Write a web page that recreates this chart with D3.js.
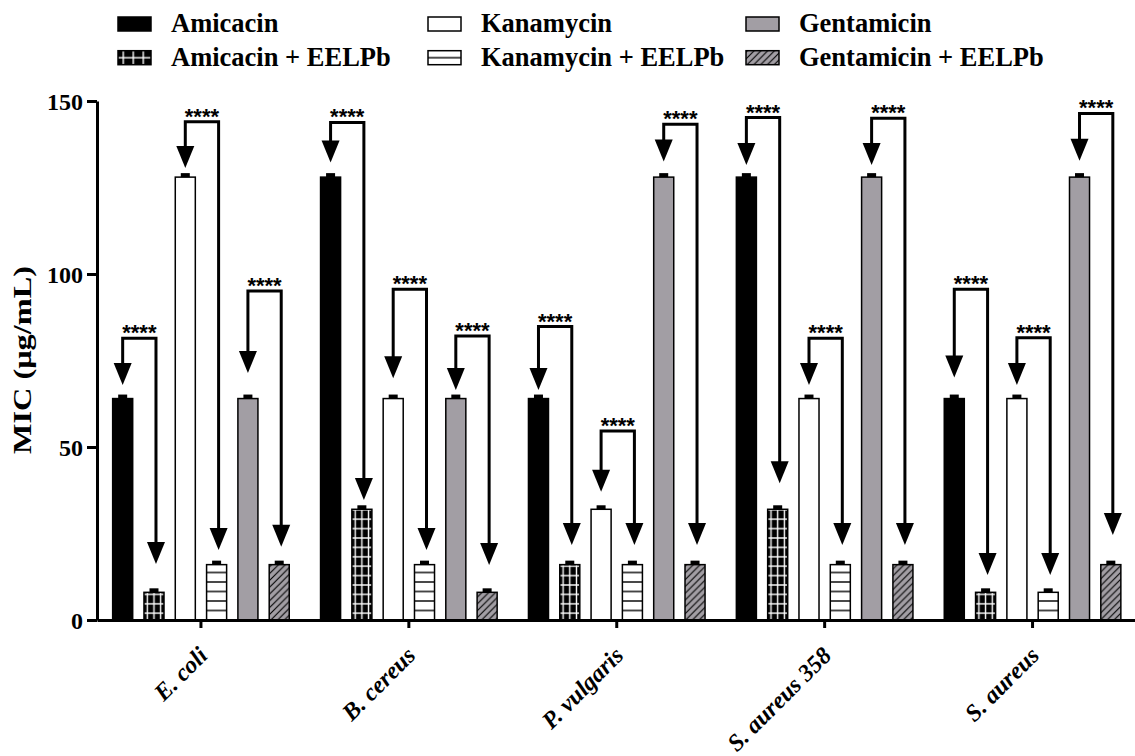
<!DOCTYPE html>
<html>
<head>
<meta charset="utf-8">
<script src="https://cdn.jsdelivr.net/npm/d3@7"></script>
<style>
  body { margin: 0; background: #fff; }
  svg text { font-family: "Liberation Serif", Tinos, "Times New Roman", Times, serif; }
  svg text.sig { font-family: "Liberation Sans", Arimo, Arial, sans-serif; }
</style>
</head>
<body>
<div id="chart"></div>
<script>
// values (MIC, µg/mL)
const strains = ["E. coli", "B. cereus", "P. vulgaris", "S. aureus 358", "S. aureus"];
const treatments = ["Amicacin", "Amicacin + EELPb", "Kanamycin", "Kanamycin + EELPb", "Gentamicin", "Gentamicin + EELPb"];

const amicacin = [64, 128, 64, 128, 64];
const amicacinEELPb = [8, 32, 16, 32, 8];
const kanamycin = [128, 64, 32, 64, 64];
const kanamycinEELPb = [16, 16, 16, 16, 8];
const gentamicin = [64, 64, 128, 128, 128];
const gentamicinEELPb = [16, 8, 16, 16, 16];

// significance brackets: top of bracket and arrow tips, in data units
const bracketTop = [
  [81.4, 143.8, 84.8, 145.2, 95.6],
  [144.0, 95.6, 54.6, 81.4, 81.6],
  [95.1, 82.1, 143.3, 145.0, 146.4]
];
const tipLeft = [
  [67.9, 132.2, 66.5, 131.5, 70.1],
  [130.6, 69.9, 37.1, 67.9, 67.9],
  [71.4, 66.5, 132.5, 131.5, 132.7]
];
const tipRight = [
  [16.2, 34.7, 21.7, 39.5, 13.0],
  [20.2, 20.2, 21.7, 21.7, 13.0],
  [21.2, 15.9, 21.7, 21.7, 24.6]
];
const sigLabel = "****";

const yTicks = [0, 50, 100, 150];

let series = [amicacin, amicacinEELPb, kanamycin, kanamycinEELPb, gentamicin, gentamicinEELPb];
let gray = "#a29ea4";

let width = 1135;
let height = 756;
let axisX = 97;
let axisY = 620;

let svg = d3.select("#chart")
  .append("svg")
  .attr("width", width)
  .attr("height", height);

let defs = svg.append("defs");

let y = d3.scaleLinear().domain([0, 150]).range([axisY, 101]);
let x0 = d3.scaleBand().domain(strains).range([axisX, axisX + 5 * 207.9]);
let x1 = d3.scaleBand().domain(treatments).range([0, x0.bandwidth()])
  .paddingInner(0.36).paddingOuter(0.5);
let bw = x1.bandwidth();

let bars = [];
strains.forEach((s, i) => {
  treatments.forEach((t, j) => {
    bars.push({ strain: s, treatment: t, si: i, ti: j, value: series[j][i] });
  });
});

// patterns; the grid gets one per bar so its columns line up with the bar edges
function makeGrid(id, px, py, cw, rh) {
  let p = defs.append("pattern").attr("id", id)
    .attr("patternUnits", "userSpaceOnUse")
    .attr("x", px).attr("y", py)
    .attr("width", cw).attr("height", rh);
  p.append("rect").attr("width", cw).attr("height", rh).attr("fill", "black");
  p.append("line").attr("x1", cw / 2).attr("x2", cw / 2).attr("y1", 0).attr("y2", rh)
    .attr("stroke", "white").attr("stroke-width", 1.4);
  p.append("line").attr("x1", 0).attr("x2", cw).attr("y1", rh / 2).attr("y2", rh / 2)
    .attr("stroke", "white").attr("stroke-width", 1.4);
}
function makeLines(id, py, rh) {
  let p = defs.append("pattern").attr("id", id)
    .attr("patternUnits", "userSpaceOnUse")
    .attr("x", 0).attr("y", py)
    .attr("width", 10).attr("height", rh);
  p.append("rect").attr("width", 10).attr("height", rh).attr("fill", "white");
  p.append("line").attr("x1", 0).attr("x2", 10).attr("y1", rh / 2).attr("y2", rh / 2)
    .attr("stroke", "black").attr("stroke-width", 1.4);
}
function makeHatch(id, s) {
  let p = defs.append("pattern").attr("id", id)
    .attr("patternUnits", "userSpaceOnUse")
    .attr("width", s).attr("height", s);
  p.append("rect").attr("width", s).attr("height", s).attr("fill", gray);
  p.append("path")
    .attr("d", `M0,${s} L${s},0 M${-s / 4},${s / 4} L${s / 4},${-s / 4} M${s * 3 / 4},${s * 5 / 4} L${s * 5 / 4},${s * 3 / 4}`)
    .attr("stroke", "black").attr("stroke-width", 1.1);
}

makeLines("kan-lines", axisY - 4.75, 9.5);
makeHatch("gen-hatch", 6.8);

bars.filter(d => d.ti === 1).forEach(d => {
  makeGrid("ami-grid-" + d.si, x0(d.strain) + x1(d.treatment), axisY - 2.1 - 9.4, bw / 3, 9.4);
});

// legend versions (legend items live in translated groups, swatch y -15..-1)
makeGrid("leg-grid", 0.3, -15, 10, 14);
makeLines("leg-lines", -15, 14);

function fillFor(d) {
  if (d.ti === 0) return "black";
  if (d.ti === 1) return `url(#ami-grid-${d.si})`;
  if (d.ti === 2) return "white";
  if (d.ti === 3) return "url(#kan-lines)";
  if (d.ti === 4) return gray;
  return "url(#gen-hatch)";
}

let barG = svg.append("g");

barG.selectAll("rect.bar")
  .data(bars)
  .enter()
  .append("rect")
  .attr("class", "bar")
  .attr("x", d => x0(d.strain) + x1(d.treatment))
  .attr("y", d => y(d.value))
  .attr("width", bw)
  .attr("height", d => axisY - y(d.value))
  .attr("fill", fillFor)
  .attr("stroke", "black")
  .attr("stroke-width", 1.5);

// zero-SD error caps
barG.selectAll("rect.cap")
  .data(bars)
  .enter()
  .append("rect")
  .attr("class", "cap")
  .attr("x", d => x0(d.strain) + x1(d.treatment) + bw / 2 - 4.5)
  .attr("y", d => y(d.value) - 4)
  .attr("width", 9)
  .attr("height", 4)
  .attr("fill", "black");

// brackets with arrows
let ah = 22, aw = 9;
let brackets = [];
strains.forEach((s, i) => {
  [0, 1, 2].forEach(k => {
    brackets.push({
      xl: x0(s) + x1(treatments[2 * k]) + bw / 2,
      xr: x0(s) + x1(treatments[2 * k + 1]) + bw / 2 + 2,
      top: bracketTop[k][i],
      tl: tipLeft[k][i],
      tr: tipRight[k][i]
    });
  });
});

let brG = svg.append("g");

brG.selectAll("path.bracket")
  .data(brackets)
  .enter()
  .append("path")
  .attr("class", "bracket")
  .attr("d", d => `M${d.xl},${y(d.tl) - ah + 2} V${y(d.top)} H${d.xr} V${y(d.tr) - ah + 2}`)
  .attr("fill", "none")
  .attr("stroke", "black")
  .attr("stroke-width", 3);

let heads = [];
brackets.forEach(d => {
  heads.push({ x: d.xl, v: d.tl });
  heads.push({ x: d.xr, v: d.tr });
});

brG.selectAll("path.head")
  .data(heads)
  .enter()
  .append("path")
  .attr("class", "head")
  .attr("d", d => `M${d.x - aw},${y(d.v) - ah} L${d.x + aw},${y(d.v) - ah} L${d.x},${y(d.v)} Z`)
  .attr("fill", "black");

brG.selectAll("text.sig")
  .data(brackets)
  .enter()
  .append("text")
  .attr("class", "sig")
  .attr("x", d => (d.xl + d.xr) / 2)
  .attr("y", d => y(d.top) + 2)
  .attr("text-anchor", "middle")
  .style("font-weight", "bold")
  .style("font-size", "22px")
  .text(sigLabel);

// axes
let yAxis = svg.append("g")
  .attr("transform", `translate(${axisX},0)`)
  .call(d3.axisLeft(y).tickValues(yTicks).tickSize(10).tickSizeOuter(0).tickPadding(4))
  .attr("font-family", null);
yAxis.select(".domain").attr("stroke-width", 3);
yAxis.selectAll(".tick line").attr("stroke-width", 3);
yAxis.selectAll(".tick text")
  .style("font-weight", "bold")
  .style("font-size", "24px")
  .attr("dy", "0.34em");

let xAxis = svg.append("g")
  .attr("transform", `translate(0,${axisY})`)
  .call(d3.axisBottom(x0).tickSize(8).tickSizeOuter(0));
xAxis.select(".domain").attr("stroke-width", 3);
xAxis.selectAll(".tick line").attr("stroke-width", 3);
xAxis.selectAll(".tick text").remove();

svg.append("g")
  .selectAll("text")
  .data(strains)
  .enter()
  .append("text")
  .attr("transform", d => `translate(${x0(d) + x0.bandwidth() / 2 + 8},${axisY + 37}) rotate(-45)`)
  .attr("text-anchor", "end")
  .style("font-weight", "bold")
  .style("font-style", "italic")
  .style("font-size", "24px")
  .text(d => d);

svg.append("text")
  .attr("transform", `translate(31,360) rotate(-90)`)
  .attr("text-anchor", "middle")
  .attr("textLength", 188)
  .attr("lengthAdjust", "spacingAndGlyphs")
  .style("font-weight", "bold")
  .style("font-size", "25px")
  .text("MIC (μg/mL)");

// legend
let legCols = [118, 428, 746];
let legRows = [32, 65.7];

let legFills = ["black", "url(#leg-grid)", "white", "url(#leg-lines)", gray, "url(#gen-hatch)"];

let legend = svg.append("g")
  .selectAll("g")
  .data(treatments)
  .enter()
  .append("g")
  .attr("transform", (d, i) => `translate(${legCols[Math.floor(i / 2)]},${legRows[i % 2]})`);

legend.append("rect")
  .attr("x", 0)
  .attr("y", -15)
  .attr("width", 33)
  .attr("height", 14)
  .attr("fill", (d, i) => legFills[i])
  .attr("stroke", "black")
  .attr("stroke-width", 1.5);

legend.append("text")
  .attr("x", 53)
  .attr("y", 0)
  .style("font-weight", "bold")
  .style("font-size", "26.5px")
  .text(d => d);
</script>
</body>
</html>
